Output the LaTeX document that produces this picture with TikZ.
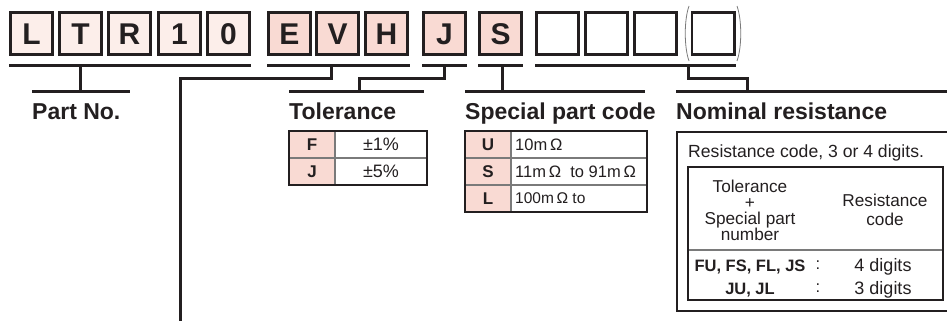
\documentclass[tikz,border=0pt]{standalone}
\usepackage{fontspec}
\setmainfont{Liberation Sans}
\definecolor{ink}{HTML}{231F20}
\definecolor{pinkA}{HTML}{FCEEEA}
\definecolor{pinkB}{HTML}{F9DAD3}
\definecolor{rulec}{HTML}{7A7A7A}
\begin{document}
\begin{tikzpicture}[x=1pt,y=-1pt,
  lbox/.style={draw=ink, line width=2.7pt, minimum width=42.3pt, minimum height=42.3pt,
    inner sep=0pt, text=ink, font=\fontsize{30}{30}\selectfont\bfseries,
    text height=21.5pt, text depth=0pt},
  bar/.style={draw=ink, line width=3pt},
  title/.style={font=\fontsize{23}{23}\selectfont\bfseries, text=ink, anchor=base west, inner sep=0pt},
  tkey/.style={font=\fontsize{17}{17}\selectfont\bfseries, text=ink, anchor=base, inner sep=0pt},
  tval/.style={font=\fontsize{16.5}{16.5}\selectfont, text=ink, inner sep=0pt},
  hdr/.style={font=\fontsize{17.2}{17.2}\selectfont, text=ink, inner sep=0pt, anchor=base},
  frame/.style={draw=ink, line width=2.6pt},
  divider/.style={draw=rulec, line width=1.2pt},
  paren/.style={draw=rulec, line width=0.8pt}
]
\useasboundingbox (0,0) rectangle (947,323);

% ---------- top code boxes ----------
\node[lbox, fill=pinkA] (bL) at (31.5,33.5) {L};
\node[lbox, fill=pinkA] (bT) at (80.5,33.5) {T};
\node[lbox, fill=pinkA] (bR) at (129.5,33.5) {R};
\node[lbox, fill=pinkA] (bOne) at (179.5,33.5) {1};
\node[lbox, fill=pinkA] (bZero) at (228.5,33.5) {0};
\node[lbox, fill=pinkB] (bE) at (289.5,33.5) {E};
\node[lbox, fill=pinkB] (bV) at (337.5,33.5) {V};
\node[lbox, fill=pinkB] (bH) at (386.5,33.5) {H};
\node[lbox, fill=pinkB] (bJ) at (444.5,33.5) {J};
\node[lbox, fill=pinkB] (bS) at (500.5,33.5) {S};
\node[lbox, fill=white] (bX1) at (557.5,33.5) {};
\node[lbox, fill=white] (bX2) at (606.5,33.5) {};
\node[lbox, fill=white] (bX3) at (655.5,33.5) {};
\node[lbox, fill=white] (bX4) at (713,33.5) {};
\draw[paren] (689,6) .. controls (684,20) and (684,47) .. (689,61);
\draw[paren] (737,6) .. controls (742,20) and (742,47) .. (737,61);

% ---------- underline bars ----------
\coordinate (uA1) at (9,66);   \coordinate (uA2) at (251,66);
\coordinate (uB1) at (267,66); \coordinate (uB2) at (410,66);
\coordinate (uC1) at (422,66); \coordinate (uC2) at (467,66);
\coordinate (uD1) at (478,66); \coordinate (uD2) at (523,66);
\coordinate (uE1) at (535,66); \coordinate (uE2) at (736,66);
\draw[bar] (uA1) -- (uA2);
\draw[bar] (uB1) -- (uB2);
\draw[bar] (uC1) -- (uC2);
\draw[bar] (uD1) -- (uD2);
\draw[bar] (uE1) -- (uE2);

% ---------- title bars and branches ----------
\coordinate (pA) at (80,66);  \coordinate (pB) at (80,92);
\coordinate (pL) at (32,92);  \coordinate (pR) at (130,92);
\draw[bar] (pA) -- (pB);
\draw[bar] (pL) -- (pR);

\coordinate (eA) at (331,66); \coordinate (eEnd) at (180,321);
\draw[bar] (eA) -- (331,79) -| (eEnd);

\coordinate (jA) at (444,66); \coordinate (jB) at (359,92);
\coordinate (tL) at (289,92); \coordinate (tR) at (424,92);
\draw[bar] (jA) -- (444,79) -| (jB);
\draw[bar] (tL) -- (tR);

\coordinate (sA) at (502,66); \coordinate (sB) at (502,92);
\coordinate (sL) at (465,92); \coordinate (sR) at (645,92);
\draw[bar] (sA) -- (sB);
\draw[bar] (sL) -- (sR);

\coordinate (nA) at (688,66); \coordinate (nB) at (747,92);
\coordinate (nL) at (676,92); \coordinate (nR) at (947,92);
\draw[bar] (nA) -- (688,79) -| (nB);
\draw[bar] (nL) -- (nR);

% ---------- titles ----------
\node[title] (tPart) at (32,120) {Part No.};
\node[title] (tTol) at (289,120) {Tolerance};
\node[title] (tSpec) at (465,120) {Special part code};
\node[title] (tNom) at (676,120) {Nominal resistance};

% ---------- tolerance table ----------
\fill[pinkB] (289,131) rectangle (335,185);
\draw[divider] (335,131) -- (335,185);
\draw[divider] (289,158) -- (427,158);
\draw[frame] (289,131) rectangle (427,185);
\node[tkey] (tolF) at (312,150.5) {F};
\node[tkey] (tolJ) at (312,177.5) {J};
\node[tval, anchor=base, font=\fontsize{18}{18}\selectfont] (tol1) at (381,150.5) {±1\%};
\node[tval, anchor=base, font=\fontsize{18}{18}\selectfont] (tol5) at (381,177.5) {±5\%};

% ---------- special part code table ----------
\fill[pinkB] (465,131) rectangle (511,212);
\draw[divider] (511,131) -- (511,212);
\draw[divider] (465,158) -- (647,158);
\draw[divider] (465,185) -- (647,185);
\draw[frame] (465,131) rectangle (647,212);
\node[tkey] (spU) at (488,150.5) {U};
\node[tkey] (spS) at (488,177.5) {S};
\node[tkey] (spL) at (488,204.5) {L};
\node[tval, anchor=base west] (spU1) at (515,150.5) {10m\,Ω};
\node[tval, anchor=base west] (spS1) at (515,177.5) {11m\,Ω\ \ to 91m\,Ω};
\node[tval, anchor=base west, font=\fontsize{15.5}{15.5}\selectfont] (spL1) at (515,204) {100m\,Ω\ to};

% ---------- nominal resistance box ----------
\draw[frame] (677,132) rectangle (952,311);
\node[tval, anchor=base west, font=\fontsize{17.6}{17.6}\selectfont] (nomTxt) at (688,158) {Resistance code, 3 or 4 digits.};
\draw[divider] (688,250) -- (943,250);
\draw[frame] (688,167) rectangle (943,300);
\node[hdr] (hdA1) at (750,192.5) {Tolerance};
\node[hdr] (hdA2) at (750,208.5) {+};
\node[hdr] (hdA3) at (750,224.5) {Special part};
\node[hdr] (hdA4) at (750,240.5) {number};
\node[hdr] (hdB1) at (885,206) {Resistance};
\node[hdr] (hdB2) at (885,225) {code};
\node[tkey, font=\fontsize{16.5}{16.5}\selectfont\bfseries] (rowA) at (750,271) {FU, FS, FL, JS};
\node[tkey, font=\fontsize{16.5}{16.5}\selectfont\bfseries] (rowB) at (750,294) {JU, JL};
\node[tval, anchor=base] (colA) at (818,269) {:};
\node[tval, anchor=base] (colB) at (818,292) {:};
\node[tval, anchor=base, font=\fontsize{18}{18}\selectfont] (digA) at (883,271) {4 digits};
\node[tval, anchor=base, font=\fontsize{18}{18}\selectfont] (digB) at (883,294) {3 digits};
\end{tikzpicture}
\end{document}
